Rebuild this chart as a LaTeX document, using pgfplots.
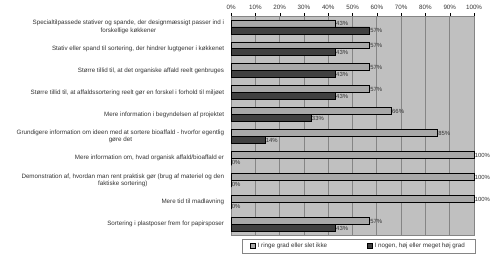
\documentclass[border=0pt]{standalone}
\usepackage{fontspec}
\setmainfont{Liberation Sans}
\usepackage{pgfplots}
\pgfplotsset{compat=1.18}
\definecolor{bg}{HTML}{C0C0C0}
\definecolor{lightbar}{HTML}{A8A8A8}
\definecolor{darkbar}{HTML}{404040}
\definecolor{gridc}{HTML}{858585}
\definecolor{labc}{HTML}{333333}
\begin{document}
\begin{tikzpicture}
\begin{axis}[
 scale only axis, width=244bp, height=220bp,
 xbar, bar width=7bp,
 xmin=0, xmax=100,
 ymin=-0.5, ymax=9.5,
 axis background/.style={fill=bg},
 axis line style={gridc},
 xtick={0,10,...,100},
 xticklabel pos=right,
 xtick pos=right,
 xticklabel={\pgfmathprintnumber{\tick}\%},
 xmajorgrids, grid style={gridc, line width=0.8bp},
 ytick={0,...,9},
 ytick style={draw=none},
 minor ytick={-0.5,0.5,...,9.5},
 ytick pos=left,
 tick align=outside,
 minor tick length=2.5bp,
 major tick length=2.5bp,
 minor tick style={black},
 major tick style={black},
 /pgf/number format/assume math mode=true,
 tick label style={font=\fontsize{6.3}{7.5}\selectfont, text=labc},
 yticklabel style={align=center, font=\fontsize{6.3}{7.5}\selectfont, text=labc, xshift=-1bp},
 yticklabels={
  {Sortering i plastposer frem for papirsposer},
  {Mere tid til madlavning},
  {Demonstration af, hvordan man rent praktisk gør (brug af materiel og den\\faktiske sortering)},
  {Mere information om, hvad organisk affald/bioaffald er},
  {Grundigere information om ideen med at sortere bioaffald - hvorfor egentlig\\gøre det},
  {Mere information i begyndelsen af projektet},
  {Større tillid til, at affaldssortering reelt gør en forskel i forhold til miljøet},
  {Større tillid til, at det organiske affald reelt genbruges},
  {Stativ eller spand til sortering, der hindrer lugtgener i køkkenet},
  {Specialtilpassede stativer og spande, der designmæssigt passer ind i\\forskellige køkkener}},
 nodes near coords={\pgfmathprintnumber{\pgfplotspointmeta}\%},
 nodes near coords style={font=\fontsize{6}{7}\selectfont, text=labc, inner sep=0.4bp, anchor=west, yshift=-0.5bp},
 legend columns=2,
 legend style={at={(0.045,-0.018)}, anchor=north west, draw=gridc, fill=white,
   font=\fontsize{6.3}{7.5}\selectfont, text=labc, inner xsep=8bp, inner ysep=2bp,
   /tikz/every even column/.append style={column sep=38bp}},
 legend image code/.code={\draw[#1, draw=black] (0bp,-2.5bp) rectangle (5bp,2.5bp);},
 clip=false,
]
\addplot[fill=lightbar, draw=black, line width=0.6bp, bar shift=3.5bp] coordinates {
 (57,0) (100,1) (100,2) (100,3) (85,4) (66,5) (57,6) (57,7) (57,8) (43,9)};
\addlegendentry{I ringe grad eller slet ikke}
\addplot[fill=darkbar, draw=black, line width=0.6bp, bar shift=-3.5bp] coordinates {
 (43,0) (0,1) (0,2) (0,3) (14,4) (33,5) (43,6) (43,7) (43,8) (57,9)};
\addlegendentry{I nogen, høj eller meget høj grad}
\coordinate (bl) at ([xshift=-232bp, yshift=-20bp]rel axis cs:0,0);
\coordinate (tr) at ([xshift=16bp, yshift=16bp]rel axis cs:1,1);
\end{axis}
\pgfresetboundingbox
\useasboundingbox (bl) rectangle (tr);
\end{tikzpicture}
\end{document}
